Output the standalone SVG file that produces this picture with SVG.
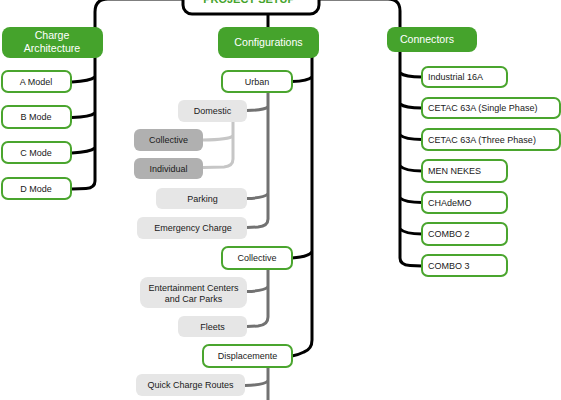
<svg xmlns="http://www.w3.org/2000/svg" width="561" height="400" viewBox="0 0 561 400">
<style>
text{font-family:"Liberation Sans",Arial,sans-serif;font-size:9px;fill:#1a1a1a}
.hd{fill:#45a32c}
.hdt{fill:#fff;font-size:10.6px;text-anchor:middle}
.gn{fill:#fff;stroke:#4aa52e;stroke-width:2}
.lg{fill:#e6e6e6}
.dg{fill:#b0b0b0}
.c{text-anchor:middle}
.bk{fill:none;stroke:#000;stroke-width:3}
.gy{fill:none;stroke:#727272;stroke-width:3}
.lgy{fill:none;stroke:#c6c6c6;stroke-width:3}
</style>
<g id="connectors">
<path class="bk" d="M183,-1 H108 Q95,-1 95,12 V181 Q95,188 86,188.5 L72,189"/>
<path class="bk" d="M95,77 Q90,81 72,82"/>
<path class="bk" d="M95,113 Q90,117 72,117.5"/>
<path class="bk" d="M95,148 Q90,152 72,153"/>
<path class="bk" d="M268,14 V27"/>
<path class="bk" d="M312,57 V340 Q312,349 304,352 Q298,355 292,356"/>
<path class="bk" d="M312,77 Q308,81 292,81.5"/>
<path class="bk" d="M312,252 Q308,257 292,258"/>
<path class="bk" d="M319,-1 H388 Q400,-1 400,11 V258 Q400,265 410,265.5 L422,266"/>
<path class="bk" d="M400,73 Q405,77 422,77"/>
<path class="bk" d="M400,104 Q405,108 422,108"/>
<path class="bk" d="M400,135 Q405,139.5 422,139.5"/>
<path class="bk" d="M400,166 Q405,171 422,171"/>
<path class="bk" d="M400,198 Q405,202.5 422,202.5"/>
<path class="bk" d="M400,229 Q405,234 422,234"/>
<path class="gy" d="M268,92 V219 Q268,226 258,227 L247,227.5"/>
<path class="gy" d="M268,107 Q264,110 247,110.5"/>
<path class="gy" d="M268,194 Q264,198 247,198.5"/>
<path class="gy" d="M268,269 V317 Q268,325 258,326 L247,326.5"/>
<path class="gy" d="M268,287 Q264,291 247,291.5"/>
<path class="gy" d="M268,367 V400"/>
<path class="gy" d="M268,381 Q264,385 245,385.5"/>
<path class="lgy" d="M233,122 V159 Q233,166 224,167 L203,167.5"/>
<path class="lgy" d="M233,136 Q229,139.5 203,140"/>
</g>
<g id="project-setup">
<rect x="183" y="-20" width="136" height="34" rx="9" fill="#fff" stroke="#000" stroke-width="3"/>
<text x="249" y="3" text-anchor="middle" style="font-size:11px;font-weight:bold;fill:#45a32c">PROJECT SETUP</text>
</g>
<g id="charge-architecture">
<rect class="hd" x="2" y="27" width="101" height="31" rx="8"/>
<text class="hdt" x="52" y="39">Charge</text>
<text class="hdt" x="52" y="52">Architecture</text>
</g>
<g id="a-model"><rect class="gn" x="2" y="71" width="69" height="21" rx="6"/><text class="c" x="36" y="85">A Model</text></g>
<g id="b-mode"><rect class="gn" x="2" y="106" width="69" height="22" rx="6"/><text class="c" x="36" y="120">B Mode</text></g>
<g id="c-mode"><rect class="gn" x="2" y="142" width="69" height="21" rx="6"/><text class="c" x="36" y="156">C Mode</text></g>
<g id="d-mode"><rect class="gn" x="2" y="178" width="69" height="21" rx="6"/><text class="c" x="36" y="192">D Mode</text></g>
<g id="configurations">
<rect class="hd" x="218" y="27" width="101" height="31" rx="8"/>
<text class="hdt" x="268.5" y="46">Configurations</text>
</g>
<g id="urban"><rect class="gn" x="222" y="71" width="70" height="21" rx="6"/><text class="c" x="257" y="85">Urban</text></g>
<g id="domestic"><rect class="lg" x="178" y="100" width="69" height="22" rx="6"/><text class="c" x="212.5" y="114">Domestic</text></g>
<g id="collective-domestic"><rect class="dg" x="134" y="129" width="69" height="22" rx="6"/><text class="c" x="168.5" y="143">Collective</text></g>
<g id="individual"><rect class="dg" x="134" y="158" width="69" height="21" rx="6"/><text class="c" x="168.5" y="172">Individual</text></g>
<g id="parking"><rect class="lg" x="156" y="188" width="91" height="21" rx="6"/><text class="c" x="202.5" y="202">Parking</text></g>
<g id="emergency-charge"><rect class="lg" x="137" y="217" width="110" height="22" rx="6"/><text class="c" x="193" y="231">Emergency Charge</text></g>
<g id="collective"><rect class="gn" x="222" y="247" width="70" height="22" rx="6"/><text class="c" x="257" y="261">Collective</text></g>
<g id="entertainment"><rect class="lg" x="140" y="277" width="107" height="31" rx="8"/><text class="c" x="193.5" y="291">Entertainment Centers</text><text class="c" x="193.5" y="302">and Car Parks</text></g>
<g id="fleets"><rect class="lg" x="178" y="316" width="69" height="21" rx="6"/><text class="c" x="212.5" y="330">Fleets</text></g>
<g id="displacemente"><rect class="gn" x="203" y="345" width="89" height="22" rx="6"/><text class="c" x="247.5" y="359">Displacemente</text></g>
<g id="quick-charge-routes"><rect class="lg" x="136" y="374" width="109" height="22" rx="6"/><text class="c" x="190.5" y="388">Quick Charge Routes</text></g>
<g id="connectors-head">
<rect class="hd" x="387" y="27" width="90" height="25" rx="8"/>
<text class="hdt" x="427" y="43">Connectors</text>
</g>
<g id="industrial-16a"><rect class="gn" x="422" y="67" width="85" height="20" rx="6"/><text x="428" y="80">Industrial 16A</text></g>
<g id="cetac-single"><rect class="gn" x="422" y="98" width="138" height="20" rx="6"/><text x="428" y="111">CETAC 63A (Single Phase)</text></g>
<g id="cetac-three"><rect class="gn" x="422" y="129" width="138" height="21" rx="6"/><text x="428" y="142.5">CETAC 63A (Three Phase)</text></g>
<g id="mennekes"><rect class="gn" x="422" y="160" width="85" height="22" rx="6"/><text x="428" y="174">MEN NEKES</text></g>
<g id="chademo"><rect class="gn" x="422" y="192" width="85" height="21" rx="6"/><text x="428" y="205.5">CHAdeMO</text></g>
<g id="combo-2"><rect class="gn" x="422" y="223" width="85" height="22" rx="6"/><text x="428" y="237">COMBO 2</text></g>
<g id="combo-3"><rect class="gn" x="422" y="255" width="85" height="21" rx="6"/><text x="428" y="268.5">COMBO 3</text></g>
</svg>
